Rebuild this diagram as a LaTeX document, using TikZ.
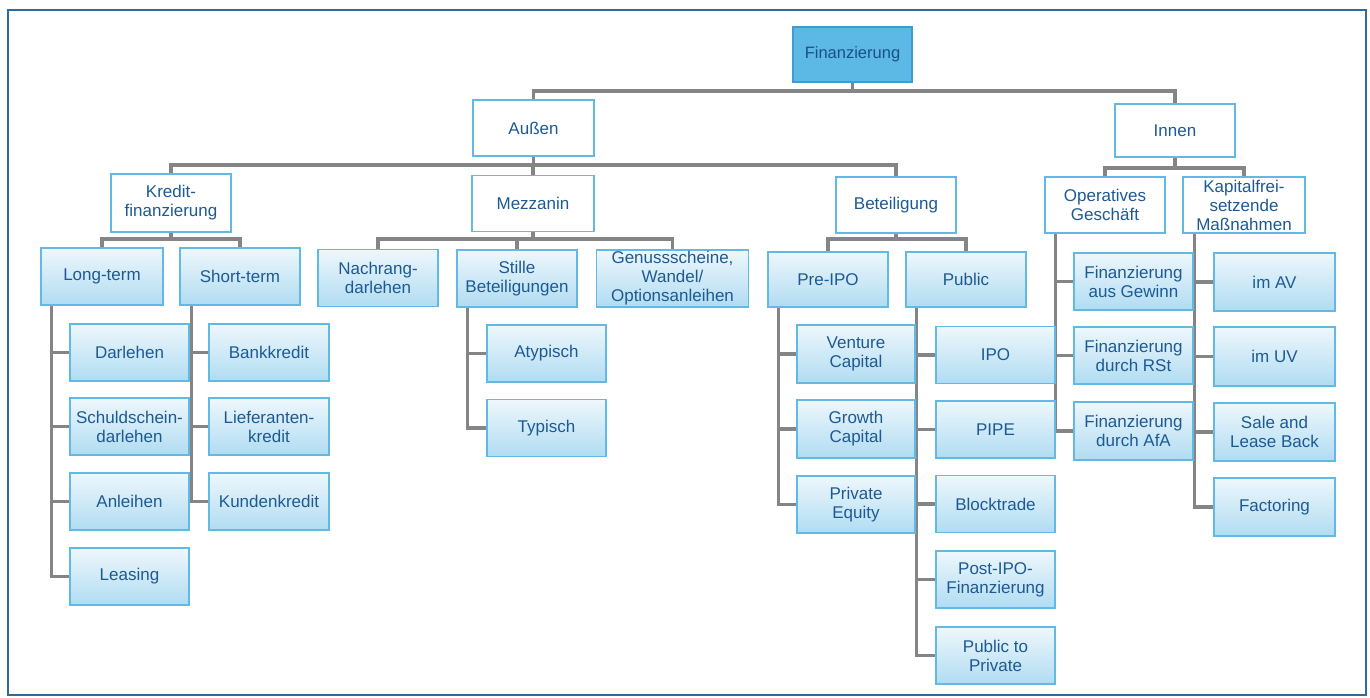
\documentclass[tikz,border=0pt]{standalone}
\usepackage{fontspec}
\setmainfont{Liberation Sans}
\usetikzlibrary{calc,backgrounds}
\definecolor{boxline}{HTML}{62B9E4}
\definecolor{txtblue}{HTML}{1D5A94}
\definecolor{leaftop}{HTML}{EEF7FC}
\definecolor{leafbot}{HTML}{B0DCF2}
\definecolor{rootfill}{HTML}{5CB8E5}
\definecolor{rootline}{HTML}{3E9CD2}
\definecolor{conngrey}{HTML}{858585}
\definecolor{framecol}{HTML}{2F6C9C}
\tikzset{
  box/.style={draw=boxline, line width=1.2pt, text=txtblue, align=center, inner sep=1pt,
    minimum width=120pt, minimum height=56pt, font=\fontsize{17}{19}\selectfont},
  head/.style={box, fill=white},
  leaf/.style={box, top color=leaftop, bottom color=leafbot, minimum height=57pt},
  rootbox/.style={box, draw=rootline, fill=rootfill, minimum width=119pt, minimum height=55pt,
    font=\fontsize{16.5}{19}\selectfont, text=txtblue!90!black},
  conn/.style={draw=conngrey, line width=3.2pt},
}

\begin{document}
\begin{tikzpicture}[x=1pt, y=-1pt]
		%%%%% START %%%%%
		\useasboundingbox (0,0) rectangle (1370,697);
		\draw[framecol, line width=2pt] (8,10) rectangle (1366,695);
		
		% bus levels
		\coordinate (busA) at (0,91);
		\coordinate (busB) at (0,165);
		\coordinate (busC) at (0,168);
		\coordinate (busD) at (0,239);
		
		\node[rootbox] (fin) at (852.5,54.5) {Finanzierung};
		
		\node[head, minimum width=121pt] (aussen) at (533.5,128) {Außen};
		\node[head, minimum height=53pt] (innen) at (1175,130.5) {Innen};
		
		\node[head, minimum height=58pt] (kredit) at (171,203) {Kredit-\\finanzierung};
		\node[head, minimum width=122pt] (mezz) at (533,203.5) {Mezzanin};
		\node[head] (beteil) at (896,205) {Beteiligung};
		\node[head] (oper) at (1105,205) {Operatives\\Geschäft};
		\node[head, minimum width=122pt] (kapital) at (1244,205) {Kapitalfrei-\\setzende\\Maßnahmen};
		
		\node[leaf, minimum width=122pt] (longterm) at (102,276.5) {Long-term};
		\node[leaf] (shortterm) at (240,276.5) {Short-term};
		\node[leaf] (nachrang) at (378,278) {Nachrang-\\darlehen};
		\node[leaf] (stille) at (517,278.5) {Stille\\Beteiligungen};
		\node[leaf, minimum width=152pt] (genuss) at (672.5,278.5) {Genussscheine,\\Wandel/\\Optionsanleihen};
		\node[leaf, minimum height=55pt] (preipo) at (828,279.5) {Pre-IPO};
		\node[leaf, minimum height=55pt] (public) at (966,279.5) {Public};
		
		% Long-term
		\node[leaf, minimum width=119pt] (darlehen) at (129.5,352.5) {Darlehen};
		\node[leaf, minimum width=119pt] (schuld) at (129.5,426.5) {Schuldschein-\\darlehen};
		\node[leaf, minimum width=119pt] (anleihen) at (129.5,501.5) {Anleihen};
		\node[leaf, minimum width=119pt] (leasing) at (129.5,576.5) {Leasing};
		
		% Short-term
		\node[leaf] (bank) at (269,352.5) {Bankkredit};
		\node[leaf] (lief) at (269,426.5) {Lieferanten-\\kredit};
		\node[leaf] (kunden) at (269,501.5) {Kundenkredit};
		
		% Stille Beteiligungen
		\node[leaf, minimum width=119pt] (atyp) at (546.5,353.5) {Atypisch};
		\node[leaf, minimum width=119pt] (typ) at (546.5,428) {Typisch};
		
		% Pre-IPO
		\node[leaf, minimum width=118pt, minimum height=58pt] (vc) at (856,354) {Venture\\Capital};
		\node[leaf, minimum width=118pt, minimum height=58pt] (gc) at (856,429) {Growth\\Capital};
		\node[leaf, minimum width=118pt, minimum height=57pt] (pe) at (856,504.5) {Private\\Equity};
		
		% Public
		\node[leaf, minimum width=119pt] (ipo) at (995.5,355) {IPO};
		\node[leaf, minimum width=119pt] (pipe) at (995.5,429.5) {PIPE};
		\node[leaf, minimum width=119pt] (block) at (995.5,504) {Blocktrade};
		\node[leaf, minimum width=119pt] (postipo) at (995.5,579.5) {Post-IPO-\\Finanzierung};
		\node[leaf, minimum width=119pt] (ptp) at (995.5,655.5) {Public to\\Private};
		
		% Operatives Geschaeft
		\node[leaf, minimum width=119pt] (fag) at (1133.5,281.5) {Finanzierung\\aus Gewinn};
		\node[leaf, minimum width=119pt] (fdr) at (1133.5,355.5) {Finanzierung\\durch RSt};
		\node[leaf, minimum width=119pt, minimum height=58pt] (fda) at (1133.5,431) {Finanzierung\\durch AfA};
		
		% Kapitalfreisetzende Massnahmen
		\node[leaf, minimum width=121pt, minimum height=58pt] (imav) at (1274.5,282) {im AV};
		\node[leaf, minimum width=121pt, minimum height=59pt] (imuv) at (1274.5,356.5) {im UV};
		\node[leaf, minimum width=121pt, minimum height=58pt] (sale) at (1274.5,432) {Sale and\\Lease Back};
		\node[leaf, minimum width=121pt, minimum height=58pt] (fact) at (1274.5,507) {Factoring};
		
		\begin{pgfonlayer}{background}
		% tree connectors
		\draw[conn] (fin.south) -- (fin.south |- busA);
		\draw[conn] (aussen.north) |- (busA -| innen) -- (innen.north);
		
		\draw[conn] (aussen.south) -- (aussen.south |- busB);
		\draw[conn] (kredit.north) |- (busB -| beteil) -- (beteil.north);
		\draw[conn] (mezz.north) -- (mezz.north |- busB);
		
		\draw[conn] (innen.south) -- (innen.south |- busC);
		\draw[conn] (oper.north) |- (busC -| kapital) -- (kapital.north);
		
		\draw[conn] (kredit.south) -- (kredit.south |- busD);
		\draw[conn] (longterm.north) |- (busD -| shortterm) -- (shortterm.north);
		\draw[conn] (mezz.south) -- (mezz.south |- busD);
		\draw[conn] (nachrang.north) |- (busD -| genuss) -- (genuss.north);
		\draw[conn] (stille.north) -- (stille.north |- busD);
		\draw[conn] (beteil.south) -- (beteil.south |- busD);
		\draw[conn] (preipo.north) |- (busD -| public) -- (public.north);
		
		% side trunks
		\coordinate (ltT) at ([xshift=11pt]longterm.south west);
		\draw[conn] (ltT) |- (leasing.west);
		\foreach \c in {darlehen,schuld,anleihen}
			\draw[conn] (\c.west -| ltT) -- (\c.west);
		
		\coordinate (stT) at ([xshift=12pt]shortterm.south west);
		\draw[conn] (stT) |- (kunden.west);
		\foreach \c in {bank,lief}
			\draw[conn] (\c.west -| stT) -- (\c.west);
		
		\coordinate (sbT) at ([xshift=11pt]stille.south west);
		\draw[conn] (sbT) |- (typ.west);
		\draw[conn] (atyp.west -| sbT) -- (atyp.west);
		
		\coordinate (piT) at ([xshift=11pt]preipo.south west);
		\draw[conn] (piT) |- (pe.west);
		\foreach \c in {vc,gc}
			\draw[conn] (\c.west -| piT) -- (\c.west);
		
		\coordinate (puT) at ([xshift=11pt]public.south west);
		\draw[conn] (puT) |- (ptp.west);
		\foreach \c in {ipo,pipe,block,postipo}
			\draw[conn] (\c.west -| puT) -- (\c.west);
		
		\coordinate (opT) at ([xshift=11pt]oper.south west);
		\draw[conn] (opT) |- (fda.west);
		\foreach \c in {fag,fdr}
			\draw[conn] (\c.west -| opT) -- (\c.west);
		
		\coordinate (kaT) at ([xshift=12pt]kapital.south west);
		\draw[conn] (kaT) |- (fact.west);
		\foreach \c in {imav,imuv,sale}
			\draw[conn] (\c.west -| kaT) -- (\c.west);
		\end{pgfonlayer}
		%%%%% END %%%%%
\end{tikzpicture}
\end{document}
